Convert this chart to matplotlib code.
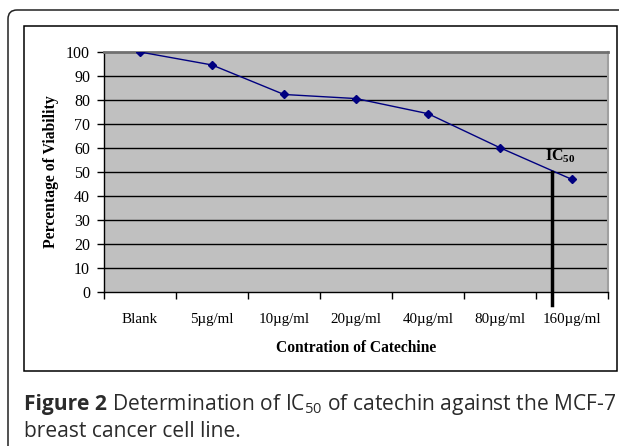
import matplotlib
matplotlib.use("Agg")
import matplotlib.pyplot as plt
from matplotlib.patches import FancyBboxPatch, Rectangle

# data
categories = ['Blank', '5\u00b5g/ml', '10\u00b5g/ml', '20\u00b5g/ml', '40\u00b5g/ml', '80\u00b5g/ml', '160\u00b5g/ml']
viability = [100, 94.6, 82.3, 80.6, 74.3, 60.1, 46.9]
ic50_x = 5.72
ic50_y = 50
yticks = list(range(0, 101, 10))

plt.rcParams['mathtext.fontset'] = 'custom'
plt.rcParams['mathtext.rm'] = 'Open Sans'
plt.rcParams['mathtext.bf'] = 'Liberation Serif:bold'

W, H = 619, 446
fig = plt.figure(figsize=(W / 100, H / 100), dpi=100)
fig.patch.set_facecolor('white')

def px(x, y):
    # pixel (from top-left) -> inches
    return x / 100, (H - y) / 100

# outer rounded frame (runs off right and bottom)
x0, y0 = px(8, 10)
frame = FancyBboxPatch((x0, -1), 8, y0 + 1, boxstyle="round,pad=0,rounding_size=0.09",
                       transform=fig.dpi_scale_trans, fill=False, ec='#222222', lw=1.1)
fig.patches.append(frame)

# inner chart box
bx, by = px(24, 371)
fig.patches.append(Rectangle((bx, by), (617 - 24) / 100, (371 - 26) / 100,
                             transform=fig.dpi_scale_trans, fill=False, ec='black', lw=1.1))

ax = fig.add_axes([104 / W, 1 - 292 / H, 504 / W, 240 / H])
ax.set_facecolor('#C0C0C0')
n = len(categories)
xs = list(range(n))
ax.plot(xs, viability, color='#000080', lw=1, marker='D', ms=4, zorder=4)

ax.set_xlim(-0.5, n - 0.5)
ax.set_ylim(0, 100)
ax.set_yticks(yticks)
ax.set_yticklabels([str(v) for v in yticks], fontfamily='Liberation Serif', fontsize=11.5)
ax.set_xticks([i - 0.5 for i in range(n + 1)])
ax.set_xticklabels([])
ax.set_xticks(xs, minor=True)
ax.set_xticklabels(categories, minor=True, fontfamily='Liberation Serif', fontsize=10.8)
ax.tick_params(axis='x', which='minor', length=0, pad=15)
ax.tick_params(axis='x', which='major', length=5, direction='out', width=1)
ax.tick_params(axis='y', length=5, direction='out', width=1, pad=5)

for v in yticks[1:-1]:
    ax.axhline(v, color='black', lw=1, zorder=1)

for s in ['left', 'bottom']:
    ax.spines[s].set_color('black')
    ax.spines[s].set_linewidth(1)
ax.spines['top'].set_color('#707070')
ax.spines['top'].set_linewidth(2)
ax.spines['right'].set_color('#A0A0A0')
ax.spines['right'].set_linewidth(1.5)

# IC50 marker line
ax.plot([ic50_x, ic50_x], [ic50_y, -5.5], color='black', lw=2.5, clip_on=False, zorder=5)
ax.text(ic50_x + 0.12, 56.5, r'$\mathbf{IC}_{\mathbf{50}}$', fontsize=11.5, ha='center', va='center')

ax.set_ylabel('Percentage of Viability', fontfamily='Liberation Serif', fontweight='bold',
              fontsize=11.3, labelpad=5)
ax.set_xlabel('Contration of Catechine', fontfamily='Liberation Serif', fontweight='bold',
              fontsize=11.2, labelpad=10)

# caption
cap_col = '#2b2b2b'
fs = 15.1
r = fig.canvas.get_renderer()
t1 = fig.text(24 / W, 1 - 410 / H, 'Figure 2', fontfamily='Open Sans', fontweight='bold',
              fontsize=fs, color=cap_col, va='baseline')
e = t1.get_window_extent(r)
fig.text((e.x1 + 5) / W, 1 - 410 / H, 'Determination of IC$_{50}$ of catechin against the MCF-7',
         fontfamily='Open Sans', fontsize=fs, color=cap_col, va='baseline')
fig.text(24 / W, 1 - 437 / H, 'breast cancer cell line.', fontfamily='Open Sans',
         fontsize=fs, color=cap_col, va='baseline')

fig.savefig('out.png', dpi=100)
